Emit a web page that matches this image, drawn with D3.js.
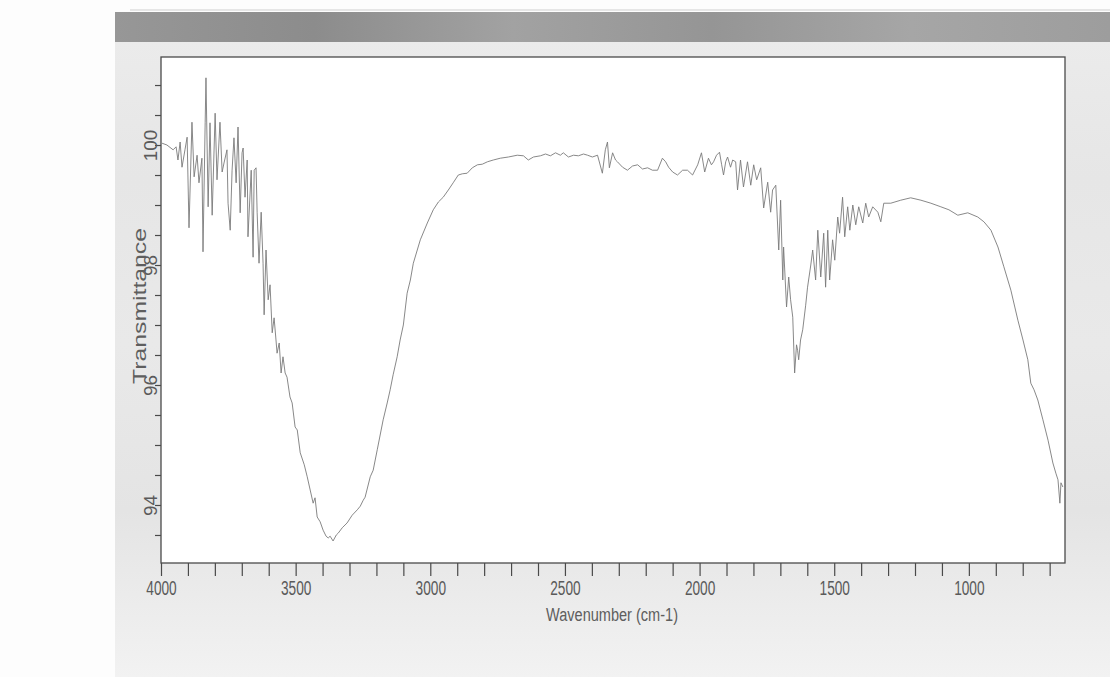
<!DOCTYPE html>
<html>
<head>
<meta charset="utf-8">
<script src="https://cdn.jsdelivr.net/npm/d3@7"></script>
<style>
  body { margin: 0; background: #ffffff; }
  svg { display: block; }
  .axis path, .axis line { stroke: #4a4a4a; }
  .tick-x text { font-family: "Liberation Sans", Arial, sans-serif; font-size: 20px; fill: #5a5a5a; }
  .tick-y text { font-family: "Liberation Sans", Arial, sans-serif; font-size: 19px; fill: #5a5a5a; }
  .axis-title { font-family: "Liberation Sans", Arial, sans-serif; fill: #5e5e5e; }
</style>
</head>
<body>
<div id="chart"></div>
<script>
// values
const wavenumber = [3996,3978,3955,3944,3937,3929,3922,3911,3903,3896,3885,3877,3866,3859,3848,3844,3836,3833,3825,3818,3810,3799,3792,3781,3773,3766,3755,3751,3743,3736,3729,3721,3714,3706,3699,3695,3688,3680,3677,3665,3658,3654,3647,3643,3636,3628,3621,
  3617,3610,3602,3595,3587,3580,3573,3569,3561,3554,3547,3539,3532,3521,3513,3502,3494,3483,3468,3457,3446,3435,3428,3420,3409,3398,3387,3379,3372,3361,3349,3342,3327,3309,3290,3271,3260,3249,3242,3223,3212,3197,3175,3160,3149,3138,3123,3112,3100,3086,3074,3063,3037,3011,2989,2970,2952,2933,2915,2896,2881,2863,2844,2825,2807,2788,2766,2740,2710,2677,2654,2636,2617,2591,2572,2554,2535,2517,2506,2487,2468,2450,2431,2416,2398,2379,2361,2350,2342,2335,2323,2312,2305,2286,2268,2249,2230,2212,2193,2175,2156,2138,2126,2115,2100,2082,2063,2045,2026,2007,1993,1981,1967,1956,1948,1937,1926,1918,1911,1903,1896,1885,1877,1866,1859,1848,1837,1822,1810,1799,1788,1773,1762,1747,1736,1729,1717,1706,1699,1691,1688,1677,1669,1662,1654,1647,1640,1636,1632,1625,1617,1606,1599,1587,1580,1569,1561,1550,1539,1532,1524,1517,1506,1498,1487,1480,1469,1461,1450,1442,1431,1420,1409,1394,1383,1372,1357,1338,1327,1316,1290,1253,1216,1178,1141,1104,1074,1041,1004,967,944,918,892,870,844,818,799,781,770,758,744,725,706,688,677,669,662,658,651]

const transmittance = [100.03,100.00,99.92,99.97,99.75,100.05,99.63,99.92,100.13,98.62,100.38,99.47,99.83,99.37,99.78,98.22,100.37,101.12,98.97,100.37,98.83,100.53,99.42,100.38,99.55,99.70,99.92,99.03,98.58,99.58,100.12,99.37,100.30,98.87,99.87,99.95,99.13,99.75,98.47,99.58,98.13,99.58,99.62,98.88,98.03,98.88,98.03,
  97.17,98.25,97.42,97.67,96.87,97.12,96.75,96.53,96.70,96.20,96.47,96.20,96.13,95.80,95.70,95.30,95.25,94.87,94.67,94.47,94.25,94.03,94.12,93.80,93.72,93.58,93.48,93.45,93.48,93.40,93.50,93.53,93.62,93.70,93.83,93.92,93.98,94.08,94.13,94.47,94.58,94.92,95.42,95.70,95.92,96.17,96.47,96.75,97.00,97.53,97.75,98.03,98.42,98.70,98.92,99.05,99.13,99.25,99.37,99.50,99.52,99.53,99.62,99.67,99.68,99.72,99.75,99.78,99.80,99.83,99.82,99.75,99.80,99.82,99.85,99.82,99.87,99.83,99.87,99.80,99.83,99.82,99.85,99.83,99.80,99.83,99.53,99.92,100.05,99.62,99.87,99.75,99.72,99.63,99.58,99.65,99.67,99.60,99.62,99.58,99.58,99.78,99.72,99.63,99.55,99.50,99.58,99.58,99.50,99.67,99.87,99.55,99.78,99.67,99.72,99.83,99.88,99.67,99.50,99.72,99.80,99.63,99.75,99.72,99.25,99.75,99.30,99.72,99.33,99.67,99.42,99.62,98.95,99.38,98.88,99.25,99.33,98.25,99.08,97.75,98.30,97.30,97.80,97.42,97.13,96.20,96.67,96.58,96.42,96.75,96.92,97.33,97.63,98.00,98.25,97.75,98.58,97.80,98.53,97.63,98.58,97.75,98.42,98.08,98.80,98.53,99.13,98.47,98.97,98.58,99.00,98.67,98.97,98.70,99.03,98.80,98.97,98.88,98.72,99.03,99.03,99.08,99.12,99.08,99.03,98.97,98.92,98.83,98.87,98.80,98.72,98.58,98.30,97.97,97.58,97.08,96.75,96.42,96.03,95.92,95.75,95.42,95.08,94.70,94.53,94.42,94.03,94.37,94.30]

const xTicks = d3.range(700, 4001, 100)
const xLabels = [4000, 3500, 3000, 2500, 2000, 1500, 1000]
const yTicks = d3.range(93.5, 101.01, 0.5)
const yLabels = [94, 96, 98, 100]

const xTitle = "Wavenumber (cm-1)"
const yTitle = "Transmittance"

async function init() {

  // 1. Access data
  const dataset = d3.zip(wavenumber, transmittance)
  const xAccessor = d => d[0]
  const yAccessor = d => d[1]

  // 2. Chart dimensions
  let dimensions = {
    width: 1110,
    height: 677,
    margin: { top: 57, right: 45, bottom: 114, left: 161 },
  }
  dimensions.boundedWidth = dimensions.width - dimensions.margin.left - dimensions.margin.right
  dimensions.boundedHeight = dimensions.height - dimensions.margin.top - dimensions.margin.bottom

  // 3. Draw canvas
  const svg = d3.select("#chart")
    .append("svg")
      .attr("width", dimensions.width)
      .attr("height", dimensions.height)

  // scanned page backdrop
  svg.append("rect")
      .attr("width", dimensions.width)
      .attr("height", dimensions.height)
      .attr("fill", "#fdfdfd")

  const defs = svg.append("defs")
  const paper = defs.append("linearGradient")
      .attr("id", "paper-gradient")
      .attr("x1", 0).attr("x2", 0).attr("y1", 0).attr("y2", 1)
  paper.selectAll("stop")
    .data(["#ececec", "#e6e6e6", "#e9e9e9", "#e4e4e4", "#f2f2f2"])
    .join("stop")
      .attr("offset", (d, i) => `${i * 25}%`)
      .attr("stop-color", d => d)
  svg.append("rect")
      .attr("x", 115)
      .attr("y", 12)
      .attr("width", dimensions.width - 115)
      .attr("height", dimensions.height - 12)
      .attr("fill", "url(#paper-gradient)")

  const band = defs.append("linearGradient")
      .attr("id", "band-gradient")
  band.selectAll("stop")
    .data(["#979797", "#8c8c8c", "#a2a2a2", "#959595", "#a6a6a6", "#9d9d9d"])
    .join("stop")
      .attr("offset", (d, i) => `${i * 20}%`)
      .attr("stop-color", d => d)
  svg.append("rect")
      .attr("x", 115)
      .attr("y", 12)
      .attr("width", dimensions.width - 115)
      .attr("height", 30)
      .attr("fill", "url(#band-gradient)")
  svg.append("line")
      .attr("x1", 130).attr("x2", dimensions.width)
      .attr("y1", 10).attr("y2", 10)
      .attr("stroke", "#cfcfcf")

  const bounds = svg.append("g")
      .attr("transform", `translate(${dimensions.margin.left}, ${dimensions.margin.top})`)

  bounds.append("rect")
      .attr("width", dimensions.boundedWidth)
      .attr("height", dimensions.boundedHeight)
      .attr("fill", "#ffffff")

  // 4. Scales
  const xScale = d3.scaleLinear()
      .domain([4000, 643])
      .range([0, dimensions.boundedWidth])

  const yScale = d3.scaleLinear()
      .domain([93.033, 101.467])
      .range([dimensions.boundedHeight, 0])

  // 5. Draw data
  const lineGenerator = d3.line()
      .x(d => xScale(xAccessor(d)))
      .y(d => yScale(yAccessor(d)))

  bounds.append("path")
      .attr("d", lineGenerator(dataset))
      .attr("fill", "none")
      .attr("stroke", "#7a7a7a")
      .attr("stroke-width", 0.9)
      .attr("stroke-linejoin", "round")

  // 6. Peripherals
  bounds.append("rect")
      .attr("width", dimensions.boundedWidth)
      .attr("height", dimensions.boundedHeight)
      .attr("fill", "none")
      .attr("stroke", "#4a4a4a")
      .attr("stroke-width", 1.3)

  const xAxis = bounds.append("g")
      .attr("class", "axis tick-x")
      .attr("transform", `translate(0, ${dimensions.boundedHeight})`)
      .call(d3.axisBottom(xScale)
        .tickValues(xTicks)
        .tickSize(13)
        .tickPadding(5)
        .tickFormat(d => xLabels.includes(d) ? d : ""))
  xAxis.select(".domain").remove()
  xAxis.selectAll("line").attr("stroke-width", 1.2)
  xAxis.selectAll("text")
      .attr("fill", "#5a5a5a")
      .filter(d => xLabels.includes(d))
      .attr("textLength", d => String(d).length * 7.6)
      .attr("lengthAdjust", "spacingAndGlyphs")

  const yAxis = bounds.append("g")
      .attr("class", "axis tick-y")
      .call(d3.axisLeft(yScale)
        .tickValues(yTicks)
        .tickSize(6)
        .tickFormat(d => yLabels.includes(d) ? d : ""))
  yAxis.select(".domain").remove()
  yAxis.selectAll("line").attr("stroke-width", 1.2)
  yAxis.selectAll("text")
      .attr("x", null)
      .attr("dy", null)
      .attr("fill", "#5a5a5a")
      .attr("text-anchor", "middle")
      .attr("transform", "translate(-4, 0) rotate(-90)")
      .filter(d => yLabels.includes(d))
      .attr("textLength", d => String(d).length * 10.5)
      .attr("lengthAdjust", "spacingAndGlyphs")

  svg.append("text")
      .attr("class", "axis-title")
      .attr("x", 612)
      .attr("y", 621)
      .attr("text-anchor", "middle")
      .attr("font-size", 18)
      .attr("textLength", 132)
      .attr("lengthAdjust", "spacingAndGlyphs")
      .text(xTitle)

  svg.append("text")
      .attr("class", "axis-title")
      .attr("transform", "translate(146, 306) rotate(-90)")
      .attr("text-anchor", "middle")
      .attr("font-size", 19)
      .attr("textLength", 156)
      .attr("lengthAdjust", "spacingAndGlyphs")
      .text(yTitle)
}

init()
</script>
</body>
</html>
